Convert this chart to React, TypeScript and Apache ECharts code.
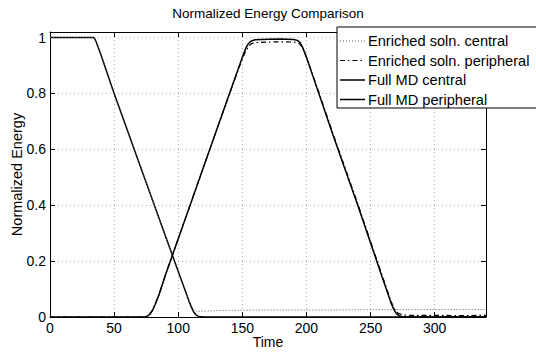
import React, { useEffect, useRef } from "react";
import * as echarts from "echarts";

const titleText = "Normalized Energy Comparison";
const xName = "Time";
const yName = "Normalized Energy";
const seriesNames = [
  "Enriched soln. central",
  "Enriched soln. peripheral",
  "Full MD central",
  "Full MD peripheral",
];

const enrichedCentral: [number, number][] = [
  [0, 1], [30, 1], [34, 1], [35, 0.995], [36, 0.985], [40, 0.935], [50, 0.8], [60, 0.673],
  [70, 0.545], [80, 0.418], [90, 0.29], [100, 0.163], [105, 0.1], [108, 0.064], [110, 0.042],
  [112, 0.028], [114, 0.021], [117, 0.02], [125, 0.022], [140, 0.024], [170, 0.025],
  [200, 0.025], [250, 0.026], [300, 0.027], [340, 0.027],
];

const enrichedPeripheral: [number, number][] = [
  [0, 0], [74, 0], [76, 0.004], [78, 0.012], [80, 0.026], [82, 0.046], [85, 0.08], [90, 0.15],
  [100, 0.28], [110, 0.41], [120, 0.54], [130, 0.67], [140, 0.8], [150, 0.925], [153, 0.955],
  [155, 0.97], [157, 0.978], [160, 0.982], [170, 0.984], [180, 0.985], [190, 0.984],
  [193, 0.982], [195, 0.976], [197, 0.962], [200, 0.93], [210, 0.8], [220, 0.665],
  [230, 0.535], [240, 0.405], [250, 0.27], [260, 0.135], [263, 0.095], [266, 0.056],
  [268, 0.034], [270, 0.02], [272, 0.012], [275, 0.008], [280, 0.006], [300, 0.006],
  [320, 0.005], [340, 0.006],
];

const fullCentral: [number, number][] = [
  [0, 1], [30, 1], [34, 1], [35, 0.995], [36, 0.985], [40, 0.935], [50, 0.8], [60, 0.673],
  [70, 0.545], [80, 0.418], [90, 0.29], [100, 0.163], [105, 0.1], [108, 0.062], [110, 0.038],
  [112, 0.018], [114, 0.007], [116, 0.002], [120, 0], [340, 0],
];

const fullPeripheral: [number, number][] = [
  [0, 0], [74, 0], [76, 0.003], [78, 0.01], [80, 0.024], [82, 0.045], [85, 0.08], [90, 0.15],
  [100, 0.28], [110, 0.41], [120, 0.54], [130, 0.67], [140, 0.8], [150, 0.93], [153, 0.965],
  [155, 0.98], [157, 0.988], [160, 0.992], [170, 0.994], [180, 0.995], [190, 0.993],
  [193, 0.99], [195, 0.982], [197, 0.965], [200, 0.93], [210, 0.795], [220, 0.66],
  [230, 0.53], [240, 0.4], [250, 0.265], [260, 0.13], [263, 0.09], [266, 0.05], [268, 0.028],
  [270, 0.013], [272, 0.005], [275, 0.001], [280, 0], [340, 0],
];

const FONT = "'Liberation Sans', Arial, Helvetica, sans-serif";

const styles = [
  { color: "#555", width: 1, dash: [1, 2] as number[] | null },
  { color: "#000", width: 1.2, dash: [5, 3, 1.5, 3] as number[] | null },
  { color: "#000", width: 1.5, dash: null as number[] | null },
  { color: "#000", width: 1.5, dash: null as number[] | null },
];

export default function App() {
  const ref = useRef<HTMLDivElement>(null);
  useEffect(() => {
    if (!ref.current) return;
    const chart = echarts.init(ref.current, null, { renderer: "svg" });
    const gridLine = { show: true, lineStyle: { color: "#b0b0b0", width: 1, type: [1, 3] as any } };
    const axisLine = { show: true, onZero: false, lineStyle: { color: "#000", width: 1 } };
    const axisTick = { show: true, inside: true, length: 5, lineStyle: { color: "#000" } };

    const legendLeft = 337;
    const legendTop = 27;
    const rowGap = 19.5;
    const legendChildren: any[] = [
      {
        type: "rect",
        z: 100,
        shape: { x: legendLeft, y: legendTop, width: 215, height: 81 },
        style: { fill: "#fff", stroke: "#000", lineWidth: 1 },
      },
    ];
    seriesNames.forEach((name, i) => {
      const y = legendTop + 14 + i * rowGap;
      const s = styles[i];
      legendChildren.push({
        type: "line",
        z: 101,
        shape: { x1: legendLeft + 3, y1: y, x2: legendLeft + 28, y2: y },
        style: { stroke: s.color, lineWidth: s.width, lineDash: s.dash || undefined },
      });
      legendChildren.push({
        type: "text",
        z: 101,
        x: legendLeft + 31,
        y,
        style: {
          text: name,
          font: `14.6px ${FONT}`,
          fill: "#000",
          textVerticalAlign: "middle",
          verticalAlign: "middle",
          textAlign: "left",
        },
      });
    });

    const mk = (i: number, data: [number, number][]) => ({
      name: seriesNames[i],
      type: "line",
      data,
      symbol: "none",
      lineStyle: { color: styles[i].color, width: styles[i].width, type: styles[i].dash || "solid" },
      itemStyle: { color: styles[i].color },
      z: i < 2 ? 4 : 3,
    });

    chart.setOption({
      animation: false,
      backgroundColor: "#fff",
      textStyle: { fontFamily: FONT },
      title: {
        text: titleText,
        left: "center",
        top: 1,
        textStyle: { fontFamily: FONT, fontSize: 13.5, fontWeight: "normal", color: "#000" },
      },
      grid: {
        left: 50,
        right: 50,
        top: 32,
        bottom: 35,
        containLabel: false,
        outerBoundsMode: "none",
      },
      graphic: { elements: [{ type: "group", z: 100, zlevel: 0, children: legendChildren }] },
      xAxis: [
        {
          type: "value",
          min: 0,
          max: 340,
          interval: 50,
          name: xName,
          nameLocation: "middle",
          nameGap: 18,
          nameMoveOverlap: false,
          nameTextStyle: { fontFamily: FONT, fontSize: 14, color: "#000" },
          axisLine,
          axisTick,
          axisLabel: { color: "#000", fontSize: 14, fontFamily: FONT, margin: 4, showMaxLabel: false },
          splitLine: gridLine,
        },
        {
          type: "value",
          position: "top",
          min: 0,
          max: 340,
          interval: 50,
          axisLine,
          axisTick,
          axisLabel: { show: false },
          splitLine: { show: false },
        },
      ],
      yAxis: [
        {
          type: "value",
          min: 0,
          max: 1.02,
          interval: 0.2,
          name: yName,
          nameLocation: "middle",
          nameGap: 26,
          nameMoveOverlap: false,
          nameTextStyle: { fontFamily: FONT, fontSize: 14.5, color: "#000" },
          axisLine,
          axisTick,
          axisLabel: { color: "#000", fontSize: 14, fontFamily: FONT, margin: 4, showMaxLabel: false },
          splitLine: gridLine,
        },
        {
          type: "value",
          position: "right",
          min: 0,
          max: 1.02,
          interval: 0.2,
          z: 0,
          axisLine,
          axisTick,
          axisLabel: { show: false },
          splitLine: { show: false },
        },
      ],
      series: [
        mk(2, fullCentral),
        mk(3, fullPeripheral),
        mk(0, enrichedCentral),
        mk(1, enrichedPeripheral),
      ],
    });
    return () => chart.dispose();
  }, []);
  return (
    <div
      ref={ref}
      style={{ position: "absolute", left: 0, top: 0, width: 536, height: 352 }}
    />
  );
}
